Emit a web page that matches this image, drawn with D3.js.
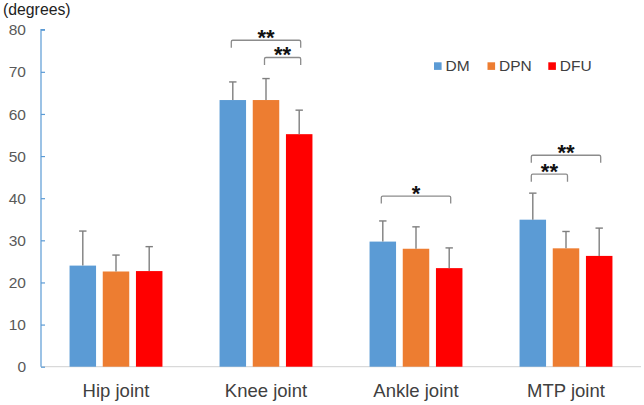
<!DOCTYPE html>
<html><head><meta charset="utf-8">
<script src="https://cdn.jsdelivr.net/npm/d3@7"></script>
<style>body{margin:0;background:#fff}svg{display:block;font-family:"Liberation Sans",Arial,sans-serif}</style>
</head><body><svg id="c" width="644" height="405"></svg>
<script>
const categories = ["Hip joint","Knee joint","Ankle joint","MTP joint"];
const seriesNames = ["DM","DPN","DFU"];
const colors = ["#5b9bd5","#ed7d31","#ff0000"];
const dmMean  = [24.0, 63.3, 29.7, 34.9];
const dmSD    = [8.2, 4.3, 4.9, 6.3];
const dpnMean = [22.6, 63.3, 28.0, 28.1];
const dpnSD   = [3.9, 5.1, 5.2, 4.0];
const dfuMean = [22.7, 55.2, 23.4, 26.3];
const dfuSD   = [5.8, 5.7, 4.8, 6.6];
const yTicks = [0,10,20,30,40,50,60,70,80];
// significance brackets: category, from series, to series, bracket level (degrees), label
const brackets = [
  {cat:"Knee joint", from:0, to:2, level:77.5, label:"**"},
  {cat:"Knee joint", from:1, to:2, level:73.4, label:"**"},
  {cat:"Ankle joint", from:0, to:2, level:40.5, label:"*"},
  {cat:"MTP joint", from:0, to:2, level:50.2, label:"**"},
  {cat:"MTP joint", from:0, to:1, level:45.7, label:"**"}
];

const means = [dmMean, dpnMean, dfuMean];
const sds = [dmSD, dpnSD, dfuSD];
const svg = d3.select("#c");
const x = d3.scaleBand().domain(categories).range([41, 641]);
const y = d3.scaleLinear().domain([0, 80]).range([366.7, 29.7]);
const barW = 26.5, gap = 6.7;
const slot = i => (i - 1) * (barW + gap);
const cx = (c, i) => x(c) + x.bandwidth()/2 + slot(i);

// baseline
svg.append("line").attr("x1", 41).attr("x2", 641).attr("y1", y(0)).attr("y2", y(0))
  .attr("stroke", "#d9d9d9").attr("stroke-width", 1.3);

// y axis
const yAxis = d3.axisRight(y).tickValues(yTicks).tickSize(4).tickFormat("");
const ga = svg.append("g").attr("transform", "translate(41,0)").call(yAxis);
ga.selectAll("path,line").attr("stroke", "#5b9bd5").attr("stroke-width", 1.2);
ga.select(".domain").attr("d", `M4,${y(80)}H0V${y(0)}`);
svg.append("g").selectAll("text").data(yTicks).join("text")
  .attr("x", 26).attr("y", d => y(d)).attr("dy", "0.36em").attr("text-anchor", "end")
  .attr("font-size", 15.5).attr("fill", "#595959").text(d => d);

svg.append("text").attr("x", 3).attr("y", 15).attr("font-size", 15.8).attr("fill", "#222").text("(degrees)");

// bars
seriesNames.forEach((s, i) => {
  const g = svg.append("g");
  g.selectAll("rect").data(categories).join("rect")
    .attr("x", c => cx(c, i) - barW/2).attr("width", barW)
    .attr("y", (c, j) => y(means[i][j])).attr("height", (c, j) => y(0) - y(means[i][j]))
    .attr("fill", colors[i]);
  g.selectAll("line.e").data(categories).join("line").attr("class","e")
    .attr("x1", c => cx(c, i)).attr("x2", c => cx(c, i))
    .attr("y1", (c, j) => y(means[i][j])).attr("y2", (c, j) => y(means[i][j] + sds[i][j]))
    .attr("stroke", "#7f7f7f").attr("stroke-width", 1.4);
  g.selectAll("line.cap").data(categories).join("line").attr("class","cap")
    .attr("x1", c => cx(c, i) - 3.7).attr("x2", c => cx(c, i) + 3.7)
    .attr("y1", (c, j) => y(means[i][j] + sds[i][j])).attr("y2", (c, j) => y(means[i][j] + sds[i][j]))
    .attr("stroke", "#7f7f7f").attr("stroke-width", 1.4);
});

// brackets
brackets.forEach(b => {
  const x1 = cx(b.cat, b.from) - 1.5, x2 = cx(b.cat, b.to) + 1.5, yy = y(b.level);
  svg.append("path").attr("d", `M${x1},${yy+7.5}V${yy+1.5}Q${x1},${yy} ${x1+1.5},${yy}H${x2-1.5}Q${x2},${yy} ${x2},${yy+1.5}V${yy+7.5}`)
    .attr("fill", "none").attr("stroke", "#8c8c8c").attr("stroke-width", 1.3);
  svg.append("text").attr("x", (x1 + x2)/2).attr("y", yy + 0.57*22 - 8)
    .attr("text-anchor", "middle").attr("font-size", 22).attr("font-weight", "bold")
    .attr("fill", "#111").text(b.label);
});

// x labels
svg.append("g").selectAll("text").data(categories).join("text")
  .attr("x", c => x(c) + x.bandwidth()/2).attr("y", 397).attr("text-anchor", "middle")
  .attr("font-size", 18.5).attr("fill", "#404040").text(d => d);

// legend
const legX = [434, 487.5, 548.3];
seriesNames.forEach((s, i) => {
  svg.append("rect").attr("x", legX[i]).attr("y", 62.3).attr("width", 7.6).attr("height", 7.6).attr("fill", colors[i]);
  svg.append("text").attr("x", legX[i] + 11.5).attr("y", 71.3).attr("font-size", 15.5).attr("fill", "#404040").text(s);
});
</script></body></html>
